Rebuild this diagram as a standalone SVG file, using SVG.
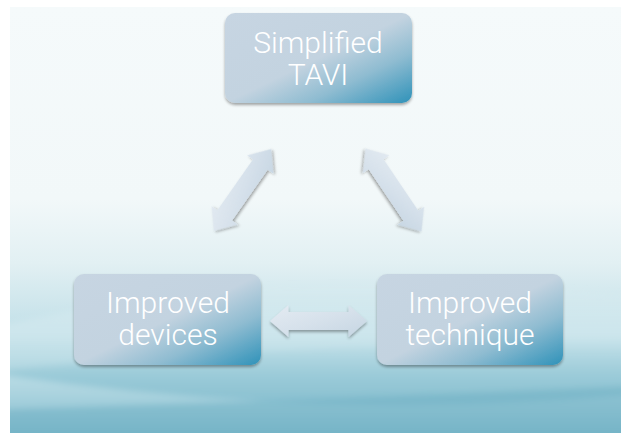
<svg xmlns="http://www.w3.org/2000/svg" width="621" height="433" viewBox="0 0 621 433">
  <defs>
    <linearGradient id="bg" x1="0" y1="0" x2="0" y2="1">
      <stop offset="0" stop-color="#f5fafb"/>
      <stop offset="0.45" stop-color="#f2f8f9"/>
      <stop offset="0.6" stop-color="#e2f0f3"/>
      <stop offset="0.75" stop-color="#c4e1e9"/>
      <stop offset="0.87" stop-color="#99cbd8"/>
      <stop offset="1" stop-color="#70b1c5"/>
    </linearGradient>
    <linearGradient id="wave1" x1="0" y1="0" x2="0" y2="1">
      <stop offset="0" stop-color="#e2f1f4" stop-opacity="0"/>
      <stop offset="0.3" stop-color="#d3e9ef" stop-opacity="0.7"/>
      <stop offset="1" stop-color="#a9d2de" stop-opacity="0"/>
    </linearGradient>
    <linearGradient id="wave2" x1="0" y1="0" x2="0" y2="1">
      <stop offset="0" stop-color="#8fc4d3" stop-opacity="0"/>
      <stop offset="0.35" stop-color="#8cc2d2" stop-opacity="0.8"/>
      <stop offset="1" stop-color="#6aadc2" stop-opacity="1"/>
    </linearGradient>
    <linearGradient id="wave3" x1="0" y1="0" x2="0" y2="1">
      <stop offset="0" stop-color="#cfe8ee" stop-opacity="0.6"/>
      <stop offset="1" stop-color="#cfe8ee" stop-opacity="0"/>
    </linearGradient>
    <linearGradient id="box" x1="0" y1="0" x2="1" y2="1">
      <stop offset="0" stop-color="#c7d5e2"/>
      <stop offset="0.5" stop-color="#c3d3e0"/>
      <stop offset="0.72" stop-color="#8fbcd1"/>
      <stop offset="1" stop-color="#2f92b9"/>
    </linearGradient>
    <linearGradient id="arr" x1="0" y1="0" x2="1" y2="1">
      <stop offset="0" stop-color="#e4ebf2"/>
      <stop offset="0.5" stop-color="#d6e1eb"/>
      <stop offset="1" stop-color="#c5d5e2"/>
    </linearGradient>
    <filter id="sh" x="-20%" y="-20%" width="140%" height="150%">
      <feGaussianBlur in="SourceAlpha" stdDeviation="1.5"/>
      <feOffset dx="0" dy="2" result="b"/>
      <feComponentTransfer><feFuncA type="linear" slope="0.35"/></feComponentTransfer>
      <feMerge><feMergeNode/><feMergeNode in="SourceGraphic"/></feMerge>
    </filter>
    <filter id="soft" x="-10%" y="-30%" width="120%" height="160%">
      <feGaussianBlur stdDeviation="3"/>
    </filter>
    <path id="dbl" d="M -50,0 L -31,-16 L -31,-9 L 31,-9 L 31,-16 L 50,0 L 31,16 L 31,9 L -31,9 L -31,16 Z"/>
  </defs>
  <style>
    .box { fill: url(#box); filter: url(#sh); }
    .lbl { font-family: Roboto, "Liberation Sans", Arial, sans-serif; font-weight: 300; font-size: 30px; fill: #ffffff; text-anchor: middle; }
    .arrow { fill: url(#arr); filter: url(#sh); }
  </style>

  <rect x="0" y="0" width="621" height="433" fill="#ffffff"/>
  <svg x="10" y="7" width="611" height="426" viewBox="10 7 611 426" overflow="hidden">
    <rect x="10" y="7" width="611" height="426" fill="url(#bg)"/>
    <g filter="url(#soft)">
      <path d="M-20,330 Q300,255 660,300 L660,450 L-20,450 Z" fill="url(#wave1)"/>
      <path d="M-20,372 Q260,345 660,338 L660,450 L-20,450 Z" fill="url(#wave2)" opacity="0.7"/>
      <path d="M-20,372 Q330,425 660,392 L660,450 L-20,450 Z" fill="url(#wave3)"/>
      <path d="M-20,410 Q320,400 660,385 L660,450 L-20,450 Z" fill="#6eb0c4" opacity="0.5"/>
    </g>
  </svg>

  <g id="connectors">
    <use href="#dbl" class="arrow" transform="translate(242.5,190) rotate(-55)"/>
    <use href="#dbl" class="arrow" transform="translate(393.5,190) rotate(56)"/>
    <use href="#dbl" class="arrow" transform="translate(318.5,321) scale(0.97,1)"/>
  </g>

  <g id="node-simplified-tavi">
    <rect class="box" x="225" y="13" width="187" height="90" rx="10"/>
    <text class="lbl" x="318" y="53">Simplified</text>
    <text class="lbl" x="318" y="85">TAVI</text>
  </g>
  <g id="node-improved-devices">
    <rect class="box" x="74" y="274" width="187" height="91" rx="10"/>
    <text class="lbl" x="168" y="313">Improved</text>
    <text class="lbl" x="168" y="345">devices</text>
  </g>
  <g id="node-improved-technique">
    <rect class="box" x="377" y="274" width="186" height="91" rx="10"/>
    <text class="lbl" x="470" y="313">Improved</text>
    <text class="lbl" x="470" y="345">technique</text>
  </g>
</svg>
